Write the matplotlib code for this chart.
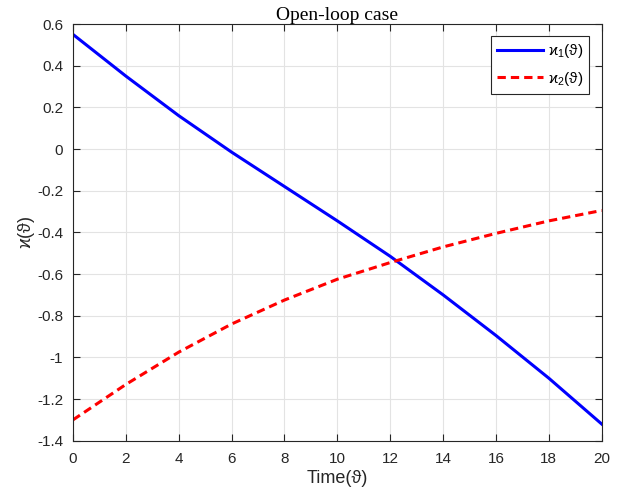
import numpy as np
import matplotlib
matplotlib.use('agg')
import matplotlib.pyplot as plt

## values
t = [0, 2, 4, 6, 8, 10, 12, 14, 16, 18, 20]
kappa1 = [0.55, 0.35, 0.16, -0.015, -0.18, -0.345, -0.515, -0.70, -0.895, -1.10, -1.32]
kappa2 = [-1.30, -1.13, -0.975, -0.84, -0.725, -0.625, -0.545, -0.47, -0.405, -0.345, -0.295]

xticks = list(range(0, 21, 2))
yticks = [0.6, 0.4, 0.2, 0, -0.2, -0.4, -0.6, -0.8, -1, -1.2, -1.4]
ytick_labels = ['0.6', '0.4', '0.2', '0', '-0.2', '-0.4', '-0.6', '-0.8', '-1', '-1.2', '-1.4']

plt.rcParams['font.family'] = ['Liberation Sans', 'Noto Sans', 'DejaVu Sans']
plt.rcParams['mathtext.fontset'] = 'custom'
plt.rcParams['mathtext.rm'] = 'Noto Sans'
plt.rcParams['mathtext.default'] = 'regular'
plt.rcParams['lines.scale_dashes'] = False

dark = '#262626'
fig = plt.figure(figsize=(6.25, 4.97), dpi=100)
ax = fig.add_axes([0.1168, 0.1133, 0.8459, 0.8384])

ax.plot(t, kappa1, color='#0000ff', lw=2.2, label='$\u03f0_1(\u03d1)$')
ax.plot(t, kappa2, color='#ff0000', lw=2.2, dashes=(6, 3.6), label='$\u03f0_2(\u03d1)$')

ax.set_xlim(0, 20)
ax.set_ylim(-1.4, 0.6)
ax.set_xticks(xticks)
ax.set_yticks(yticks)
ax.set_yticklabels(ytick_labels)
ax.grid(True, color='#e3e3e3', lw=0.8)
ax.set_axisbelow(True)
ax.tick_params(direction='in', top=True, right=True, labelsize=11, colors=dark,
               length=5, width=0.8)
ax.tick_params(axis='x', pad=8)
ax.tick_params(axis='y', pad=7)
for s in ax.spines.values():
    s.set_color(dark)
    s.set_linewidth(0.8)

ax.set_xlabel('Time(\u03d1)', fontsize=13, color=dark, labelpad=3)
ax.set_ylabel('$\u03f0(\u03d1)$', fontsize=13, color=dark, labelpad=0)
ax.set_title('Open-loop case', fontsize=14, family='Liberation Serif', pad=3)

leg = ax.legend(loc='upper right', fontsize=11, handlelength=3.0, handletextpad=0.35,
                fancybox=False, edgecolor=dark, framealpha=1, borderaxespad=0.8,
                labelspacing=0.6)
leg.get_frame().set_linewidth(0.8)

plt.savefig('out.png', dpi=100)
